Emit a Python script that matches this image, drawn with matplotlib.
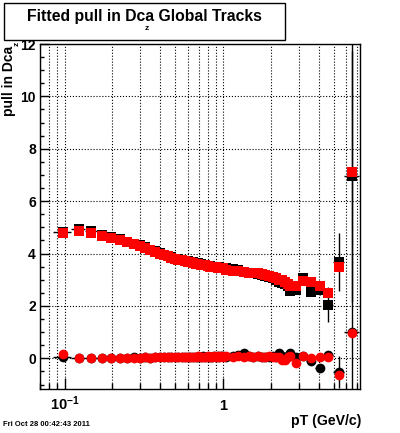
import matplotlib
matplotlib.use('Agg')
import matplotlib.pyplot as plt
import matplotlib.patches as patches
from matplotlib.ticker import LogLocator, NullFormatter, MultipleLocator
import numpy as np

plt.rcParams['font.family'] = 'Liberation Sans'
plt.rcParams['font.weight'] = 'bold'
plt.rcParams['mathtext.fontset'] = 'custom'
plt.rcParams['mathtext.bf'] = 'Liberation Sans:bold'
plt.rcParams['mathtext.rm'] = 'Liberation Sans:bold'

# pT bin centres and half widths (GeV/c)
pt = [0.0975, 0.1225, 0.1475, 0.1725, 0.1975, 0.2225, 0.2475, 0.2725, 0.2975,
      0.3225, 0.3475, 0.3725, 0.3975, 0.4225, 0.4475, 0.4725, 0.4975, 0.5225,
      0.5475, 0.5725, 0.5975, 0.6225, 0.6475, 0.6725, 0.6975, 0.7225, 0.7475,
      0.7725, 0.7975, 0.8225, 0.8475, 0.8725, 0.8975, 0.9225, 0.9475, 0.9725,
      0.9975,
      1.05, 1.15, 1.25, 1.35, 1.45, 1.55, 1.65, 1.75, 1.85, 1.95, 2.05, 2.15,
      2.25, 2.35, 2.45, 2.55, 2.65,
      2.9, 3.17, 3.56, 4.06, 4.6, 5.35, 6.5]
pt_err = [0.0125] * 37 + [0.05] * 17 + [0.15, 0.17, 0.22, 0.26, 0.3, 0.45, 0.7]

# width (sigma) of the pull, red and black
sig_red = [4.79, 4.85, 4.79, 4.68, 4.61, 4.53, 4.45, 4.37, 4.29, 4.2, 4.12, 4.07,
           4.0, 3.94, 3.9, 3.84, 3.8, 3.77, 3.74, 3.7, 3.69, 3.66, 3.64, 3.62,
           3.61, 3.58, 3.56, 3.55, 3.52, 3.5, 3.5, 3.48, 3.47, 3.46, 3.45, 3.44,
           3.43,
           3.37, 3.35, 3.33, 3.3, 3.27, 3.25, 3.24, 3.22, 3.17, 3.14, 3.12, 3.05,
           3.0, 2.98, 2.92, 2.85, 2.76,
           2.77, 2.97, 2.92, 2.78, 2.5, 3.48, 7.1]
sig_blk = [4.83, 4.92, 4.85, 4.72, 4.63, 4.55, 4.46, 4.38, 4.32, 4.24, 4.13, 4.08,
           4.02, 3.95, 3.9, 3.86, 3.81, 3.78, 3.74, 3.72, 3.7, 3.68, 3.66, 3.64,
           3.63, 3.59, 3.57, 3.55, 3.53, 3.51, 3.5, 3.49, 3.48, 3.47, 3.46, 3.45,
           3.45,
           3.43, 3.42, 3.38, 3.3, 3.27, 3.24, 3.23, 3.2, 3.15, 3.12, 3.08, 3.0,
           2.9, 2.88, 2.85, 2.75, 2.58,
           2.6, 3.08, 2.52, 2.62, 2.05, 3.68, 6.95]
sig_blk_err = [0.04] * 37 + [0.05] * 17 + [0.1, 0.12, 0.15, 0.2, 0.67, 1.1, 4.8]

# mean of the pull, red and black
mean_red = [0.16, 0.0, 0.0, 0.01, 0.0, 0.02, 0.01, 0.03, 0.02, 0.04, 0.03, 0.05,
            0.04, 0.05, 0.06, 0.04, 0.05, 0.06, 0.05, 0.07, 0.06, 0.05, 0.07, 0.06,
            0.08, 0.06, 0.07, 0.05, 0.08, 0.07, 0.06, 0.08, 0.07, 0.09, 0.06, 0.08,
            0.07,
            0.08, 0.06, 0.09, 0.07, 0.08, 0.05, 0.09, 0.07, 0.06, 0.08, 0.05, 0.07,
            0.05, -0.05, -0.06, 0.06, 0.1,
            -0.17, 0.09, 0.0, 0.04, 0.06, -0.64, 0.98]
mean_blk = [0.05, 0.0, 0.01, 0.02, 0.0, 0.03, 0.01, 0.04, 0.02, 0.04, 0.03, 0.05,
            0.05, 0.04, 0.06, 0.05, 0.05, 0.07, 0.05, 0.06, 0.07, 0.05, 0.06, 0.07,
            0.07, 0.06, 0.08, 0.06, 0.07, 0.07, 0.07, 0.08, 0.06, 0.08, 0.07, 0.08,
            0.08,
            0.07, 0.1, 0.12, 0.22, 0.1, 0.06, 0.08, 0.05, 0.07, 0.06, 0.1, 0.05,
            0.2, 0.08, 0.0, 0.1, 0.2,
            0.05, 0.1, -0.1, -0.35, 0.13, -0.52, 1.0]
mean_blk_err = [0.03] * 37 + [0.04] * 17 + [0.08, 0.08, 0.1, 0.1, 0.15, 0.6, 11.0]

fig = plt.figure(figsize=(4.0, 4.33), dpi=100)
ax = fig.add_axes([0.1, 1 - 389 / 433, 0.8, 345 / 433])

ax.errorbar(pt, sig_blk, xerr=pt_err, yerr=sig_blk_err, fmt='s', color='black',
            ms=6.7, mew=0, elinewidth=1, capsize=0, zorder=3)
ax.errorbar(pt, mean_blk, xerr=pt_err, yerr=mean_blk_err, fmt='o', color='black',
            ms=7, mew=0, elinewidth=1, capsize=0, zorder=3)
ax.plot(pt, sig_red, 's', color='red', ms=6.7, mew=0, zorder=4)
ax.plot(pt, mean_red, 'o', color='red', ms=7, mew=0, zorder=4)

ax.set_xscale('log')
ax.set_xlim(0.07, 7.3)
ax.set_ylim(-1.17, 12)

ax.xaxis.set_major_locator(LogLocator(base=10, subs=(1.0,)))
ax.xaxis.set_minor_locator(LogLocator(base=10, subs=np.arange(2, 10)))
ax.xaxis.set_major_formatter(NullFormatter())
ax.xaxis.set_minor_formatter(NullFormatter())
ax.yaxis.set_major_locator(MultipleLocator(2))
ax.yaxis.set_minor_locator(MultipleLocator(0.5))

ax.tick_params(axis='both', which='both', direction='in', top=False, right=False,
               width=1, color='black')
ax.tick_params(axis='x', which='major', length=8)
ax.tick_params(axis='x', which='minor', length=4.3)
ax.tick_params(axis='y', which='major', length=6.5, labelsize=10, pad=3)
ax.tick_params(axis='y', which='minor', length=3.2)
for lab in ax.get_yticklabels():
    lab.set_fontweight('bold')

ax.grid(True, which='both', axis='x', ls=':', color='black', lw=0.8)
ax.grid(True, which='major', axis='y', ls=':', color='black', lw=0.8)
ax.set_axisbelow(True)
for s in ax.spines.values():
    s.set_linewidth(1)

# x tick labels
xtr = ax.get_xaxis_transform()
ax.text(0.1, -21 / 345, r'$\mathbf{10^{-1}}$', transform=xtr, ha='center',
        va='baseline', fontsize=10.5)
ax.text(1.0, -21 / 345, '1', transform=xtr, ha='center', va='baseline',
        fontsize=10.5, fontweight='bold')

# title box
fig.add_artist(patches.Rectangle((4 / 400, 1 - 40 / 433), 281 / 400, 37 / 433,
                                 transform=fig.transFigure, facecolor='white',
                                 edgecolor='black', lw=1))
fig.text(144.5 / 400, 1 - 17 / 433, 'Fitted pull in Dca Global Tracks',
         ha='center', va='center', fontsize=11.3, fontweight='bold')
fig.text(147 / 400, 1 - 28 / 433, 'z', ha='center', va='center', fontsize=6,
         fontweight='bold')

# axis titles
fig.text(9 / 400, 1 - 81 / 433, 'pull in Dca', rotation=90, ha='center',
         va='center', fontsize=10, fontweight='bold')
fig.text(17 / 400, 1 - 44 / 433, 'z', rotation=90, ha='center', va='center',
         fontsize=6, fontweight='bold')
fig.text(361 / 400, 1 - 421 / 433, 'pT (GeV/c)', ha='right', va='center',
         fontsize=10.2, fontweight='bold')
fig.text(3 / 400, 1 - 425 / 433, 'Fri Oct 28 00:42:43 2011', ha='left',
         va='center', fontsize=5.5, fontweight='bold')

fig.savefig('out.png', dpi=100)
